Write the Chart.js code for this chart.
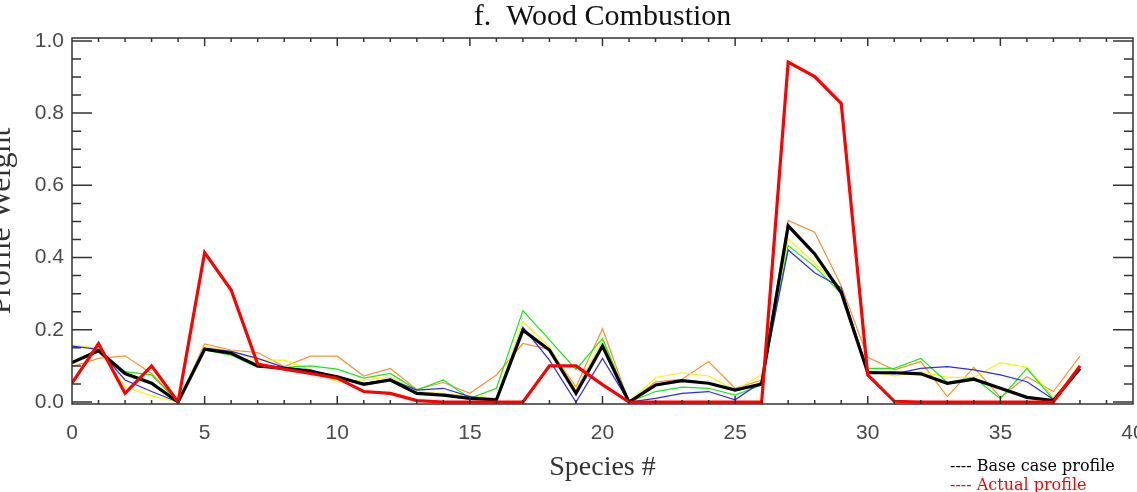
<!DOCTYPE html>
<html>
<head>
<meta charset="utf-8">
<title>f. Wood Combustion</title>
<script src="https://cdn.jsdelivr.net/npm/chart.js@4.4.1/dist/chart.umd.min.js"></script>
<style>
    html, body { margin: 0; padding: 0; background: #fff; }
    #wrap { position: relative; width: 1137px; height: 492px; }
</style>
</head>
<body>
<div id="wrap"><canvas id="profileChart" width="1137" height="492"></canvas></div>
<script>
// --- Data ---
const species = [0, 1, 2, 3, 4, 5, 6, 7, 8, 9, 10, 11, 12, 13, 14, 15, 16, 17, 18, 19,
                 20, 21, 22, 23, 24, 25, 26, 27, 28, 29, 30, 31, 32, 33, 34, 35, 36, 37, 38];

const actualProfile = [0.052, 0.162, 0.024, 0.100, 0, 0.414, 0.310, 0.105, 0.091, 0.079,
                       0.066, 0.029, 0.024, 0.004, 0, 0, 0, 0, 0.100, 0.100,
                       0.048, 0, 0, 0, 0, 0, 0, 0.941, 0.901, 0.827,
                       0.075, 0.002, 0, 0, 0, 0, 0, 0, 0.100];

const baseCase = [0.109, 0.142, 0.079, 0.052, 0, 0.146, 0.135, 0.100, 0.093, 0.084,
                  0.070, 0.049, 0.061, 0.024, 0.019, 0.010, 0.006, 0.199, 0.144, 0.024,
                  0.155, 0, 0.047, 0.059, 0.052, 0.033, 0.050, 0.488, 0.410, 0.303,
                  0.081, 0.081, 0.078, 0.052, 0.063, 0.038, 0.013, 0.004, 0.093];

const runBlue = [0.155, 0.146, 0.061, 0.029, 0, 0.149, 0.140, 0.121, 0.096, 0.089,
                 0.070, 0.052, 0.063, 0.033, 0.038, 0.015, 0.007, 0.207, 0.116, 0,
                 0.121, 0, 0.010, 0.024, 0.029, 0.006, 0.056, 0.421, 0.358, 0.317,
                 0.084, 0.078, 0.093, 0.098, 0.089, 0.075, 0.056, 0.007, 0.089];

const runGreen = [0.112, 0.144, 0.084, 0.075, 0, 0.144, 0.130, 0.096, 0.096, 0.100,
                  0.091, 0.066, 0.079, 0.033, 0.061, 0.010, 0.038, 0.253, 0.172, 0.090,
                  0.176, 0, 0.029, 0.041, 0.038, 0.019, 0.047, 0.433, 0.375, 0.300,
                  0.093, 0.093, 0.121, 0.054, 0.068, 0.009, 0.093, 0.007, 0.090];

const runYellow = [0.158, 0.149, 0.042, 0.017, 0, 0.153, 0.141, 0.116, 0.116, 0.089,
                   0.056, 0.061, 0.068, 0.029, 0.024, 0.017, 0.010, 0.222, 0.153, 0.033,
                   0.170, 0, 0.068, 0.081, 0.072, 0.033, 0.075, 0.451, 0.385, 0.315,
                   0.085, 0.072, 0.084, 0.068, 0.068, 0.109, 0.096, 0.013, 0.093];

const runOrange = [0.098, 0.121, 0.128, 0.079, 0, 0.161, 0.144, 0.137, 0.098, 0.127,
                   0.127, 0.072, 0.093, 0.035, 0.054, 0.024, 0.075, 0.162, 0.146, 0.042,
                   0.203, 0, 0.056, 0.063, 0.112, 0.038, 0.061, 0.503, 0.470, 0.322,
                   0.124, 0.089, 0.112, 0.015, 0.096, 0.013, 0.070, 0.029, 0.127];

const yTickValues = [0, 0.2, 0.4, 0.6, 0.8, 1.0];
const xTickValues = [0, 5, 10, 15, 20, 25, 30, 35, 40];

const toPoints = arr => arr.map((v, i) => ({ x: species[i], y: v }));

const axisColor = '#333';
const labelColor = '#4a4a4a';

// Box frame with inward IDL-style tick marks on all four sides
const frameTicks = {
    id: 'frameTicks',
    afterDraw(chart) {
        const { ctx, chartArea: a, scales: { x, y } } = chart;
        ctx.save();
        ctx.strokeStyle = axisColor;
        ctx.lineWidth = 1.5;
        ctx.strokeRect(a.left, a.top, a.right - a.left, a.bottom - a.top);
        ctx.beginPath();
        for (let i = 1; i < 40; i++) {
            const px = x.getPixelForValue(i);
            const len = i % 5 === 0 ? 8 : 4;
            ctx.moveTo(px, a.bottom); ctx.lineTo(px, a.bottom - len);
            ctx.moveTo(px, a.top); ctx.lineTo(px, a.top + len);
        }
        for (let k = 0; k <= 20; k++) {
            const v = k * 0.05;
            const py = y.getPixelForValue(v);
            const len = k % 4 === 0 ? 20 : 9;
            ctx.moveTo(a.left, py); ctx.lineTo(a.left + len, py);
            ctx.moveTo(a.right, py); ctx.lineTo(a.right - len, py);
        }
        ctx.stroke();

        // Legend notes at the bottom right
        ctx.font = '16px "DejaVu Serif", serif';
        ctx.textAlign = 'left';
        ctx.textBaseline = 'alphabetic';
        ctx.fillStyle = '#000';
        ctx.fillText('---- Base case profile', 950, 471);
        ctx.fillStyle = '#ff0000';
        ctx.fillText('---- Actual profile', 950, 490);
        ctx.restore();
    }
};

const ctx = document.getElementById('profileChart').getContext('2d');
new Chart(ctx, {
    type: 'line',
    data: {
        datasets: [
            { label: 'Actual profile', data: toPoints(actualProfile), borderColor: '#ff0000', borderWidth: 3.2, order: 0 },
            { label: 'Base case profile', data: toPoints(baseCase), borderColor: '#000000', borderWidth: 3.2, order: 1 },
            { label: 'Run 1', data: toPoints(runBlue), borderColor: '#2a2aff', borderWidth: 1.2, order: 2 },
            { label: 'Run 2', data: toPoints(runGreen), borderColor: '#11ee11', borderWidth: 1.2, order: 3 },
            { label: 'Run 3', data: toPoints(runYellow), borderColor: '#f5f500', borderWidth: 1.2, order: 4 },
            { label: 'Run 4', data: toPoints(runOrange), borderColor: '#ff9030', borderWidth: 1.2, order: 5 }
        ]
    },
    options: {
        responsive: false,
        animation: false,
        events: [],
        elements: {
            point: { radius: 0 },
            line: { tension: 0, fill: false, borderJoinStyle: 'miter' }
        },
        layout: { padding: { left: 0, right: 4, top: 0, bottom: 0 } },
        scales: {
            x: {
                type: 'linear',
                min: 0,
                max: 40,
                afterBuildTicks: s => { s.ticks = xTickValues.map(v => ({ value: v })); },
                afterFit: s => { s.height = 88; s.paddingLeft = 0; s.paddingRight = 0; },
                grid: { display: false, drawTicks: false },
                border: { display: false },
                ticks: {
                    padding: 17,
                    maxRotation: 0,
                    autoSkip: false,
                    color: labelColor,
                    font: { family: '"Liberation Sans", Arial, sans-serif', size: 21 }
                },
                title: {
                    display: true,
                    text: 'Species #',
                    color: '#333',
                    font: { family: '"Liberation Serif", "Times New Roman", serif', size: 28 },
                    padding: { top: 0, bottom: 8 }
                }
            },
            y: {
                type: 'linear',
                min: -0.0055,
                max: 1.008,
                afterBuildTicks: s => { s.ticks = yTickValues.map(v => ({ value: v })); },
                afterFit: s => { s.width = 72; s.paddingTop = 0; s.paddingBottom = 0; },
                grid: { display: false, drawTicks: false },
                border: { display: false },
                ticks: {
                    padding: 8,
                    color: labelColor,
                    callback: v => v.toFixed(1),
                    font: { family: '"Liberation Sans", Arial, sans-serif', size: 21 }
                },
                title: {
                    display: true,
                    text: 'Profile Weight',
                    color: '#333',
                    font: { family: '"Liberation Serif", "Times New Roman", serif', size: 32 },
                    padding: { top: -18, bottom: 0 }
                }
            }
        },
        plugins: {
            legend: { display: false },
            tooltip: { enabled: false },
            title: {
                display: true,
                text: 'f.  Wood Combustion',
                fullSize: false,
                color: '#111',
                font: { family: '"Liberation Serif", "Times New Roman", serif', size: 30, weight: 'normal' },
                padding: { top: -1, bottom: 3 }
            }
        }
    },
    plugins: [frameTicks]
});
</script>
</body>
</html>
